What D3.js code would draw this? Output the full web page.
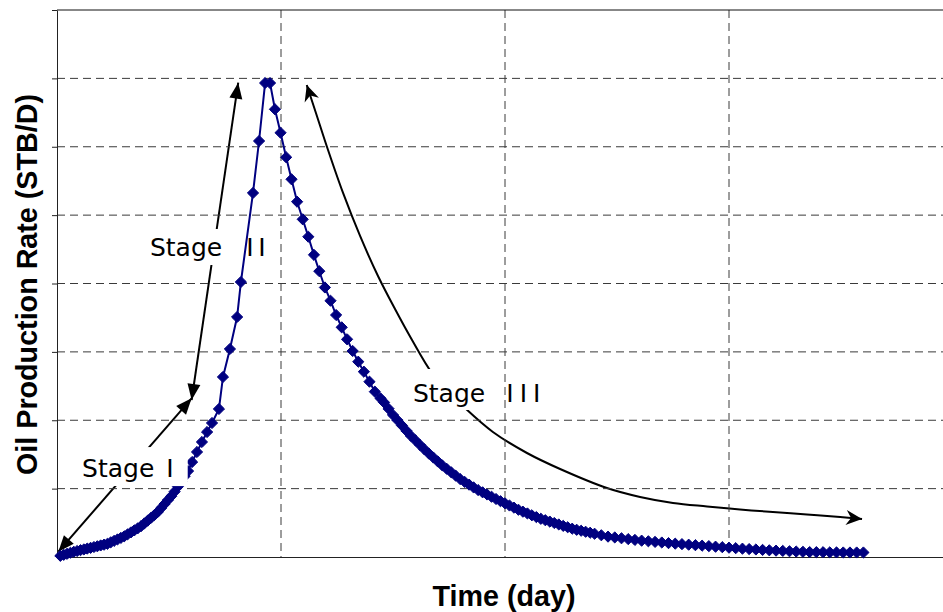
<!DOCTYPE html>
<html>
<head>
<meta charset="utf-8">
<script src="https://cdn.jsdelivr.net/npm/d3@7"></script>
<style>
  html, body { margin: 0; padding: 0; background: #fff; }
  svg { display: block; }
</style>
</head>
<body>
<svg id="chart" width="943" height="612"></svg>
<script>
// ---- Production history: time (day) vs oil rate (STB/D) ----
// Build-up (Stage I) and rapid rise (Stage II) up to the peak
const riseDays = [1.5, 3, 4.5, 6, 7.5, 9, 10.5, 12, 13.5, 15, 16.5, 18, 19.5, 21, 22.5, 24, 25.5, 27, 28.5, 30,
  31.5, 33, 34.5, 36, 37.5, 39, 40.5, 42, 43.5, 45, 46.5, 48, 49.5, 51, 52.5, 54, 55.5, 57, 58.5,
  60.3, 62.5, 64.7, 67.0, 69.2, 72.3, 74.1, 77.2, 80.4, 82.1, 87.5, 90.2, 92.9, 95.1];
const riseRates = [1.7, 3.2, 4.7, 6.2, 7.6, 8.8, 10.0, 11.1, 12.3, 13.4, 14.6, 15.7, 16.9, 18.0, 19.3, 21.5, 23.6, 25.7, 27.9, 30.2,
  33.1, 36.0, 38.9, 41.8, 45.0, 49.1, 53.2, 57.3, 61.4, 65.9, 71.6, 77.4, 83.2, 88.9, 95.6, 103.1, 110.7, 118.2, 125.7,
  138.9, 153.6, 168.2, 182.8, 196.0, 216.5, 263.3, 304.2, 351.0, 402.2, 532.4, 608.4, 693.2, 693.2];

// Decline after the peak (Stage III)
const declineDays = [97.3, 99.8, 102.3, 104.7, 107.2, 109.7, 112.2, 114.7, 117.1, 119.6, 122.1, 124.6, 127.1, 129.5, 132.0,
  134.5, 137.0, 139.5, 141.9, 144.4,
  146, 148, 150, 152, 154, 156, 158, 160, 162, 164, 166, 168, 170, 172, 174, 176, 178, 180, 182, 184,
  186, 188, 190, 192, 194, 196, 198, 200, 202, 204, 206, 208, 210, 212, 214, 216, 218, 220, 222, 224,
  226, 228, 230, 232, 234, 236, 238, 240,
  243, 246, 249, 252, 255, 258, 261, 264, 267, 270, 273, 276, 279, 282, 285, 288, 291, 294, 297, 300,
  303, 306, 309, 312, 315, 318, 321, 324, 327, 330, 333, 336, 339, 342, 345, 348, 351, 354, 357, 360];
const declineRates = [654.8, 620.5, 584.6, 552.4, 519.6, 493.9, 468.4, 441.9, 418.0, 394.2, 374.8, 353.9, 335.9, 318.4, 301.3,
  285.6, 271.0, 256.4, 241.8, 232.1,
  226.1, 216.9, 207.7, 200.0, 192.3, 184.6, 177.1, 170.6, 164.0, 157.5, 151.3, 145.5, 139.7, 134.0, 128.9, 123.9, 118.9, 113.9, 109.8, 105.8,
  101.7, 97.9, 94.6, 91.4, 88.1, 84.8, 81.6, 78.5, 75.3, 72.2, 69.1, 66.3, 63.7, 61.0, 58.4, 55.9, 53.8, 51.8, 49.7, 47.6,
  45.5, 43.5, 41.4, 39.8, 38.4, 36.9, 35.5, 34.0,
  31.8, 29.8, 28.6, 27.4, 26.2, 25.0, 23.9, 23.0, 22.1, 21.2, 20.3, 19.5, 18.8, 18.0, 17.3, 16.6, 15.9, 15.1, 14.4, 13.6,
  12.9, 12.2, 11.6, 11.0, 10.4, 9.8, 9.3, 8.9, 8.4, 8.0, 7.6, 7.2, 7.1, 7.0, 6.8, 6.7, 6.6, 6.6, 6.6, 6.6];

// Grid positions (no tick labels are printed on this chart)
const xGridDays = [100, 200, 300];
const yGridRates = [100, 200, 300, 400, 500, 600, 700];
const xDomain = [0, 400];
const yDomain = [0, 800];

// Stage annotations: double-headed arrows, given in (day, rate)
const stageIArrow = [[0.6, 7.8], [60.1, 232.1]];
const stageIIArrow = [[60.1, 229.6], [80.9, 693.7]];
const stageIIIArc = [[111.5, 690.3], [115.6, 649.4], [121.0, 595.2], [127.7, 532.4], [135.3, 469.5], [143.3, 411.0],
  [150.9, 362.7], [158.5, 317.4], [167.4, 269.1], [175.4, 239.9], [182.1, 217.9], [194.6, 182.8], [209.8, 152.1],
  [224.6, 128.7], [245.5, 100.9], [260.3, 87.8], [275.0, 79.0], [290.2, 73.9], [304.9, 69.5], [319.6, 65.8],
  [334.8, 62.2], [349.6, 58.5], [359.4, 55.6]];
const stageLabels = ["Stage", "Stage", "Stage"];
const stageNumerals = ["I", "II", "III"];
const stageLabelAt = [[11.2, 116.9], [41.5, 440.2], [158.9, 226.7]];

const series = riseDays.map((d, i) => ({ day: d, rate: riseRates[i] }))
  .concat(declineDays.map((d, i) => ({ day: d, rate: declineRates[i] })));

// ---- Layout ----
const svg = d3.select("#chart");
const x = d3.scaleLinear().domain(xDomain).range([57, 953]);
const y = d3.scaleLinear().domain(yDomain).range([557, 10]);

const defs = svg.append("defs");
function addMarker(id, d) {
  defs.append("marker")
    .attr("id", id)
    .attr("markerUnits", "userSpaceOnUse")
    .attr("viewBox", "-18 -9 19 18")
    .attr("refX", 0).attr("refY", 0)
    .attr("markerWidth", 19).attr("markerHeight", 18)
    .attr("orient", "auto-start-reverse")
    .append("path").attr("d", d).attr("fill", "#000");
}
addMarker("tri", "M0,0 L-16,-6.5 L-16,6.5 Z");
addMarker("stealth", "M0,0 L-16,-7.5 L-11,0 L-16,7.5 Z");

const gArrows = svg.append("g");
const gBoxesLow = svg.append("g");
const gGrid = svg.append("g");
const gAxes = svg.append("g");
const gSeries = svg.append("g");
const gBoxesHigh = svg.append("g");
const gText = svg.append("g");

// Annotation arrows
const straight = d3.line().x(d => x(d[0])).y(d => y(d[1]));
const arcLine = d3.line().x(d => x(d[0])).y(d => y(d[1])).curve(d3.curveCatmullRom.alpha(0.5));
[stageIArrow, stageIIArrow].forEach(a => {
  gArrows.append("path").attr("d", straight(a))
    .attr("fill", "none").attr("stroke", "#000").attr("stroke-width", 2)
    .attr("marker-start", "url(#tri)").attr("marker-end", "url(#tri)");
});
gArrows.append("path").attr("d", arcLine(stageIIIArc))
  .attr("fill", "none").attr("stroke", "#000").attr("stroke-width", 2)
  .attr("marker-start", "url(#stealth)").attr("marker-end", "url(#stealth)");

// Grid
const gridColor = "#3a3a3a";
gGrid.selectAll("line.v").data(xGridDays).join("line")
  .attr("x1", d => x(d)).attr("x2", d => x(d))
  .attr("y1", y(yDomain[1])).attr("y2", y(0))
  .attr("stroke", gridColor).attr("stroke-width", 1).attr("stroke-dasharray", "8,5");
gGrid.selectAll("line.h").data(yGridRates).join("line")
  .attr("x1", x(0)).attr("x2", x(xDomain[1]))
  .attr("y1", d => y(d)).attr("y2", d => y(d))
  .attr("stroke", gridColor).attr("stroke-width", 1).attr("stroke-dasharray", "8,5");

// Axes and plot frame
const yAxis = d3.axisLeft(y).tickValues(yGridRates.concat([yDomain[1]])).tickSize(5).tickSizeOuter(0).tickFormat("");
gAxes.append("g").attr("transform", `translate(${x(0)},0)`).call(yAxis)
  .call(g => g.selectAll("path,line").attr("stroke", "#222"));
const xAxis = d3.axisBottom(x).tickValues([]).tickSizeOuter(0);
gAxes.append("g").attr("transform", `translate(0,${y(0)})`).call(xAxis)
  .call(g => g.selectAll("path,line").attr("stroke", "#222"));
gAxes.append("line")
  .attr("x1", x(0)).attr("x2", x(xDomain[1]))
  .attr("y1", y(yDomain[1])).attr("y2", y(yDomain[1]))
  .attr("stroke", "#111").attr("stroke-width", 1);

// Series: line with diamond markers
const navy = "#000080";
gSeries.append("path")
  .attr("d", d3.line().x(d => x(d.day)).y(d => y(d.rate))(series))
  .attr("fill", "none").attr("stroke", navy).attr("stroke-width", 2);
const diamond = {
  draw(ctx, size) {
    const r = Math.sqrt(size / 2);
    ctx.moveTo(0, -r); ctx.lineTo(r, 0); ctx.lineTo(0, r); ctx.lineTo(-r, 0); ctx.closePath();
  }
};
const sym = d3.symbol().type(diamond).size(2 * 5.6 * 5.6);
gSeries.selectAll("path.pt").data(series).join("path")
  .attr("class", "pt")
  .attr("transform", d => `translate(${x(d.day)},${y(d.rate)})`)
  .attr("d", sym).attr("fill", navy)
  .attr("stroke", navy).attr("stroke-width", 1).attr("stroke-linejoin", "miter");

// Stage labels on white boxes
const labelFont = "'DejaVu Sans', Verdana, sans-serif";
const numeralGap = [12, 24, 21];
const numeralSpacing = [0, 4.6, 6.1];
const boxPad = [
  { l: 7, r: 14, t: 7, b: 3 },
  { l: 7, r: 6, t: 4, b: 3 },
  { l: 8, r: 8, t: 10, b: 2 }
];
const boxLayer = [gBoxesHigh, gBoxesLow, gBoxesLow];
stageLabels.forEach((s, i) => {
  const t = gText.append("text")
    .attr("x", x(stageLabelAt[i][0])).attr("y", y(stageLabelAt[i][1]))
    .attr("font-family", labelFont).attr("font-size", 25).attr("fill", "#000");
  t.append("tspan").text(s);
  t.append("tspan").attr("dx", numeralGap[i]).attr("letter-spacing", numeralSpacing[i]).text(stageNumerals[i]);
  const bb = t.node().getBBox();
  const p = boxPad[i];
  boxLayer[i].append("rect")
    .attr("x", bb.x - p.l).attr("y", bb.y - p.t)
    .attr("width", bb.width + p.l + p.r).attr("height", bb.height + p.t + p.b)
    .attr("fill", "#fff");
});

// Axis titles
const titleFont = "'Liberation Sans', Arial, Helvetica, sans-serif";
gText.append("text")
  .attr("x", 504).attr("y", 606)
  .attr("text-anchor", "middle")
  .attr("font-family", titleFont).attr("font-weight", "bold").attr("font-size", 28.7)
  .text("Time (day)");
gText.append("text")
  .attr("transform", `translate(37,${(93 + 476) / 2}) rotate(-90)`)
  .attr("text-anchor", "middle")
  .attr("font-family", titleFont).attr("font-weight", "bold").attr("font-size", 28.7)
  .text("Oil Production Rate (STB/D)");
</script>
</body>
</html>
